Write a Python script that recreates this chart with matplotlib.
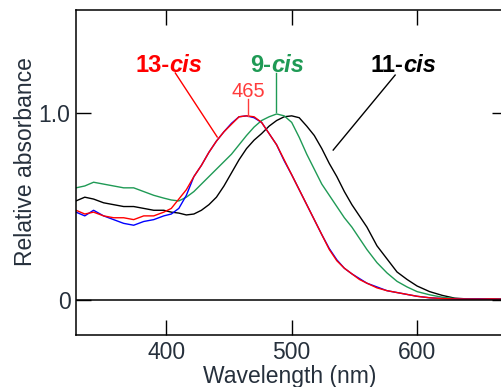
import matplotlib
matplotlib.use("Agg")
import matplotlib.pyplot as plt

plt.rcParams['font.family'] = ['Liberation Sans', 'DejaVu Sans']

wavelength = [328, 335, 342, 350, 358, 366, 374, 382, 390, 398, 404, 410, 416, 422, 428,
              434, 440, 446, 452, 458, 464, 470, 476, 482, 488, 494, 500, 506, 512, 518,
              524, 530, 536, 542, 548, 554, 560, 568, 576, 584, 592, 600, 610, 620, 630,
              640, 650, 660, 672]

red_13cis = [0.48, 0.46, 0.47, 0.45, 0.44, 0.44, 0.43, 0.45, 0.45, 0.47, 0.49, 0.54, 0.59, 0.66, 0.72,
             0.79, 0.85, 0.90, 0.94, 0.98, 0.985, 0.98, 0.95, 0.89, 0.83, 0.75, 0.67, 0.59, 0.51, 0.43,
             0.35, 0.27, 0.21, 0.17, 0.14, 0.11, 0.09, 0.065, 0.05, 0.04, 0.03, 0.02, 0.012, 0.008, 0.006,
             0.005, 0.005, 0.006, 0.004]

blue_13cis = [0.47, 0.45, 0.48, 0.45, 0.43, 0.41, 0.40, 0.42, 0.43, 0.45, 0.46, 0.49, 0.56, 0.66, 0.72,
              0.79, 0.85, 0.90, 0.945, 0.98, 0.985, 0.975, 0.95, 0.89, 0.83, 0.745, 0.67, 0.59, 0.51, 0.43,
              0.35, 0.275, 0.215, 0.17, 0.14, 0.115, 0.09, 0.07, 0.05, 0.04, 0.03, 0.02, 0.012, 0.008, 0.006,
              0.005, 0.006, 0.005, 0.005]

green_9cis = [0.60, 0.61, 0.63, 0.62, 0.61, 0.60, 0.60, 0.58, 0.56, 0.545, 0.535, 0.53, 0.55, 0.58, 0.62,
              0.66, 0.70, 0.74, 0.78, 0.83, 0.88, 0.925, 0.96, 0.98, 0.995, 0.985, 0.95, 0.87, 0.78, 0.70,
              0.62, 0.56, 0.50, 0.44, 0.39, 0.33, 0.27, 0.20, 0.145, 0.10, 0.07, 0.045, 0.028, 0.015, 0.008,
              0.005, 0.004, 0.005, 0.004]

black_11cis = [0.53, 0.55, 0.54, 0.52, 0.51, 0.50, 0.50, 0.49, 0.48, 0.48, 0.47, 0.465, 0.455, 0.46, 0.48,
               0.51, 0.55, 0.61, 0.68, 0.75, 0.81, 0.855, 0.89, 0.93, 0.96, 0.98, 0.985, 0.975, 0.93, 0.88,
               0.81, 0.73, 0.66, 0.58, 0.51, 0.45, 0.39, 0.29, 0.22, 0.15, 0.11, 0.075, 0.045, 0.025, 0.01,
               0.006, 0.005, 0.004, 0.004]

x_ticks = [400, 500, 600]
y_ticks = [0, 1.0]
y_ticklabels = ["0", "1.0"]

GREEN = '#1f9a55'
RED = '#ff0000'
TXT = '#26303c'

W, H = 502, 387
fig = plt.figure(figsize=(W / 100, H / 100), dpi=100)
ax = fig.add_axes([76 / W, 1 - 335 / H, (507 - 76) / W, (335 - 10) / H])

ax.plot(wavelength, black_11cis, color='black', lw=1.0)
ax.plot(wavelength, green_9cis, color=GREEN, lw=1.0)
ax.plot(wavelength, blue_13cis, color='#0000ff', lw=1.0)
ax.plot(wavelength, red_13cis, color=RED, lw=1.0)

ax.axhline(0, color='black', lw=1.1)

ax.set_xlim(328, 671.7)
ax.set_ylim(-0.187, 1.551)
ax.set_xticks(x_ticks)
ax.set_yticks(y_ticks)
ax.set_yticklabels(y_ticklabels)
ax.tick_params(direction='in', length=10.5, width=1.0, top=True, right=True,
               labelsize=16.5, labelcolor=TXT, pad=4)
for s in ax.spines.values():
    s.set_linewidth(1.1)

fig.text(26 / W, 1 - 162 / H, "Relative absorbance", rotation=90, ha='center', va='center',
         fontsize=16.5, color=TXT)
fig.text(290 / W, 1 - 376 / H, "Wavelength (nm)", ha='center', va='center',
         fontsize=16.5, color=TXT)

def label(x, y, num, color):
    t1 = ax.text(x, y, num, color=color, fontsize=17, fontweight='bold', ha='left', va='baseline')
    ax.annotate("cis", xy=(1, 0), xycoords=t1, color=color, fontsize=17, fontweight='bold',
                fontstyle='italic', ha='left', va='bottom')

label(375.3, 1.219, "13-", RED)
label(466.9, 1.219, "9-", GREEN)
label(562.5, 1.219, "11-", 'black')

ax.text(465.3, 1.086, "465", color='#ff3b3b', fontsize=14.5, ha='center', va='baseline')
ax.plot([465.3, 465.3], [1.075, 0.985], color='#ff3b3b', lw=1.0)
ax.plot([407.2, 440.6], [1.214, 0.872], color=RED, lw=1.0)
ax.plot([487.6, 487.6], [1.214, 1.005], color=GREEN, lw=1.0)
ax.plot([582.5, 533.1], [1.203, 0.802], color='black', lw=1.0)

fig.savefig("out.png", dpi=100)
